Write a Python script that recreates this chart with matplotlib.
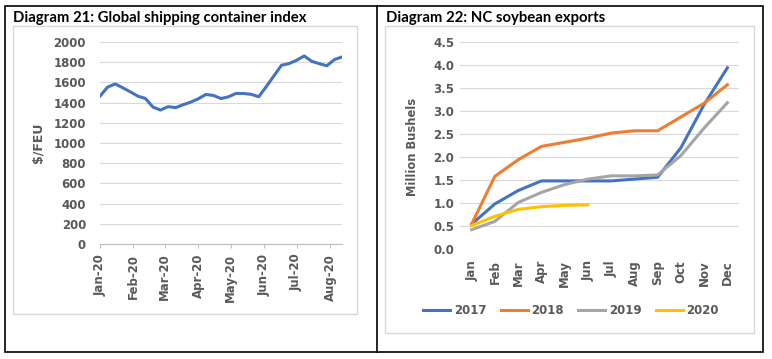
import matplotlib.pyplot as plt
import matplotlib.dates as mdates
from matplotlib.patches import Rectangle
from matplotlib.lines import Line2D
import numpy as np
import pandas as pd

# Diagram 21: weekly container index, $/FEU
weeks = pd.date_range('2020-01-01', periods=33, freq='7D')
index_fe = [1464, 1553, 1585, 1547, 1507, 1464, 1441, 1356, 1326, 1360, 1350,
            1379, 1405, 1438, 1481, 1471, 1440, 1458, 1491, 1490, 1482, 1458,
            1560, 1665, 1770, 1786, 1819, 1862, 1809, 1785, 1765, 1826, 1852]

# Diagram 22: NC soybean exports, million bushels
months = ['Jan', 'Feb', 'Mar', 'Apr', 'May', 'Jun',
          'Jul', 'Aug', 'Sep', 'Oct', 'Nov', 'Dec']
exp_2017 = [0.54, 0.98, 1.27, 1.48, 1.48, 1.48, 1.48, 1.52, 1.56, 2.20, 3.14, 3.94]
exp_2018 = [0.54, 1.58, 1.94, 2.23, 2.32, 2.41, 2.52, 2.57, 2.57, 2.87, 3.17, 3.57]
exp_2019 = [0.42, 0.60, 1.01, 1.23, 1.40, 1.52, 1.59, 1.59, 1.61, 2.03, 2.63, 3.18]
exp_2020 = [0.51, 0.71, 0.86, 0.92, 0.95, 0.96]

W, H = 772, 359
grey_txt = '#595959'
grid_c = '#D9D9D9'
plt.rcParams['font.family'] = 'DejaVu Sans'
plt.rcParams['font.weight'] = 'bold'

fig = plt.figure(figsize=(W / 100, H / 100), dpi=100)


def fx(px):
    return px / W


def fy(py):
    return 1 - py / H


def frame(x0, y0, x1, y1, color, lw):
    fig.patches.append(Rectangle((fx(x0), fy(y1)), fx(x1) - fx(x0), fy(y0) - fy(y1),
                                 transform=fig.transFigure, fill=False,
                                 edgecolor=color, linewidth=lw, zorder=0))


# outer borders and chart frames
frame(5, 6, 763, 352, 'black', 1.2)
fig.add_artist(Line2D([fx(377), fx(377)], [fy(6), fy(352)], color='black', lw=1.2,
                      transform=fig.transFigure))
frame(13, 26, 357, 314, grid_c, 1.0)
frame(385, 26, 754, 333, grid_c, 1.0)

# ---- left chart
ax1 = fig.add_axes([fx(100), fy(244), fx(342) - fx(100), fy(42) - fy(244)])
ax1.plot(weeks, index_fe, color='#4472C4', lw=2.2, solid_joinstyle='round')
ax1.set_ylim(0, 2000)
ax1.set_yticks(np.arange(0, 2001, 200))
ax1.set_xlim(weeks[0], weeks[-1])
ax1.xaxis.set_major_locator(mdates.MonthLocator())
ax1.xaxis.set_major_formatter(mdates.DateFormatter('%b-20'))
ax1.tick_params(axis='x', rotation=90, length=3, color='#BFBFBF', pad=4,
                labelsize=8.5, labelcolor=grey_txt)
ax1.tick_params(axis='y', length=0, pad=10, labelsize=8.5, labelcolor=grey_txt)
ax1.grid(axis='y', color=grid_c, lw=0.8)
for s in ['top', 'right', 'left']:
    ax1.spines[s].set_visible(False)
ax1.spines['bottom'].set_color('#BFBFBF')
ax1.set_axisbelow(True)
fig.text(fx(38), fy(143), '$/FEU', rotation=90, ha='center', va='center',
         fontsize=9, color=grey_txt, fontweight='bold')
fig.text(fx(13), fy(22), 'Diagram 21: Global shipping container index',
         fontsize=10.7, fontweight='bold', va='baseline', family='Lato')

# ---- right chart
ax2 = fig.add_axes([fx(460), fy(249), fx(739) - fx(460), fy(42) - fy(249)])
x = np.arange(len(months))
ax2.plot(x, exp_2017, color='#4472C4', lw=2.2, label='2017')
ax2.plot(x, exp_2018, color='#ED7D31', lw=2.2, label='2018')
ax2.plot(x, exp_2019, color='#A5A5A5', lw=2.2, label='2019')
ax2.plot(x[:len(exp_2020)], exp_2020, color='#FFC000', lw=2.2, label='2020')
ax2.set_ylim(0, 4.5)
ax2.set_yticks(np.arange(0, 4.51, 0.5))
ax2.yaxis.set_major_formatter(plt.FormatStrFormatter('%.1f'))
ax2.set_xlim(-0.5, 11.5)
ax2.set_xticks(x)
ax2.set_xticklabels(months)
ax2.tick_params(axis='x', rotation=90, length=0, pad=8, labelsize=8.5,
                labelcolor=grey_txt)
ax2.tick_params(axis='y', length=0, pad=4, labelsize=8.5, labelcolor=grey_txt)
ax2.grid(axis='y', color=grid_c, lw=0.8)
for s in ['top', 'right', 'left', 'bottom']:
    ax2.spines[s].set_visible(False)
ax2.set_axisbelow(True)
fig.text(fx(412), fy(147), 'Million Bushels', rotation=90, ha='center', va='center',
         fontsize=8.3, color=grey_txt, fontweight='bold')
fig.text(fx(386), fy(22), 'Diagram 22: NC soybean exports',
         fontsize=10.7, fontweight='bold', va='baseline', family='Lato')

leg = fig.legend(*ax2.get_legend_handles_labels(), loc='center',
                 bbox_to_anchor=(fx(571), fy(311)), ncol=4, frameon=False,
                 fontsize=8.5, handlelength=2.3, handletextpad=0.3,
                 columnspacing=1.2, labelcolor=grey_txt)

fig.savefig('out.png', dpi=100)
